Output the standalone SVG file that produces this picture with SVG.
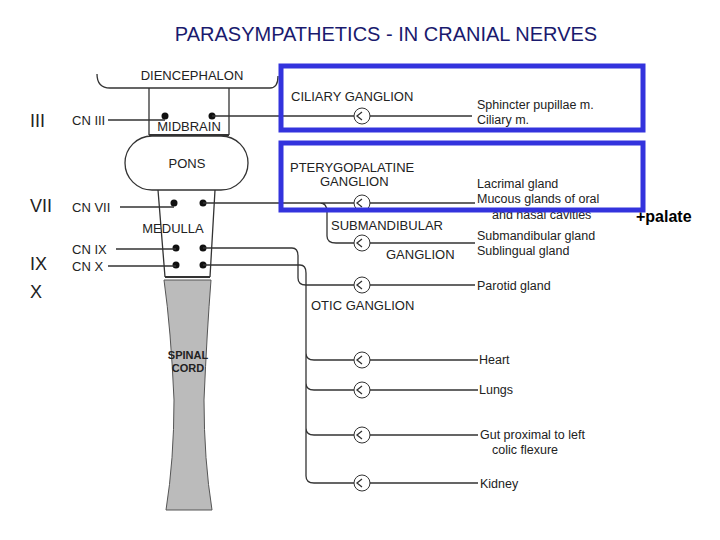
<svg xmlns="http://www.w3.org/2000/svg" width="720" height="540" viewBox="0 0 720 540">
<style>
.t{font-family:"Liberation Sans",Arial,sans-serif;fill:#222}
.s{font-size:13px}
.l{font-size:12.5px}
.n{fill:none;stroke:#333;stroke-width:1.3}
.g{fill:#fff;stroke:#333;stroke-width:1}
.b{fill:none;stroke:#3333dd;stroke-width:5}
</style>
<rect width="720" height="540" fill="#fff"/>
<text class="t" x="386" y="41" font-size="20" text-anchor="middle" fill="#1a1a6e" style="fill:#1a1a6e">PARASYMPATHETICS - IN CRANIAL NERVES</text>
<g id="roman" class="t" font-size="18">
<text x="30" y="127">III</text><text x="30" y="212">VII</text><text x="30" y="270">IX</text><text x="30" y="298">X</text>
</g>
<g id="brain">
<path class="n" d="M97,74 Q97,88 110,88 L270,88 Q278,88 278,76"/>
<text class="t s" x="192" y="80" text-anchor="middle">DIENCEPHALON</text>
<path class="n" d="M149,88 V135 M229,88 V135"/>
<line x1="149" y1="135" x2="229" y2="135" stroke="#333" stroke-width="2"/>
<text class="t s" x="189" y="131" text-anchor="middle">MIDBRAIN</text>
<rect class="n" x="125" y="136" width="123" height="54" rx="27" fill="#fff"/>
<text class="t s" x="187" y="168" text-anchor="middle">PONS</text>
<path class="n" d="M158,190 L165,277 M215,190 L210,277"/>
<line x1="165" y1="277" x2="210" y2="277" stroke="#333" stroke-width="2"/>
<text class="t s" x="173" y="233" text-anchor="middle">MEDULLA</text>
<path d="M164,280 L211,280 Q207,330 204,400 Q204,460 212,510 L166,510 Q174,460 174,400 Q171,330 164,280Z" fill="#bbb" stroke="#555"/>
<text class="t" x="188" y="359" font-size="11" font-weight="bold" text-anchor="middle">SPINAL</text>
<text class="t" x="188" y="372" font-size="11" font-weight="bold" text-anchor="middle">CORD</text>
<g fill="#111"><circle cx="165" cy="116" r="3.5"/><circle cx="212" cy="116" r="3.5"/><circle cx="174" cy="203" r="3.5"/><circle cx="203" cy="203" r="3.5"/><circle cx="176" cy="248" r="3.5"/><circle cx="203" cy="248" r="3.5"/><circle cx="176" cy="265" r="3.5"/><circle cx="203" cy="265" r="3.5"/></g>
</g>
<g id="cnlabels" class="t s">
<text x="72" y="125">CN III</text><text x="72" y="212">CN VII</text><text x="72" y="254">CN IX</text><text x="72" y="271">CN X</text>
</g>
<g id="connectors">
<path class="n" d="M108,120 H165 M120,207 H174 M116,249 H176 M108,266 H176"/>
<path class="n" d="M212,116 H472"/>
<path class="n" d="M203,203 H475 M320,203 Q327,203 327,212 V236 Q327,243 336,243 H475"/>
<path class="n" d="M203,248 H292 Q298,248 298,256 V278 Q298,285 306,285 H475"/>
<path class="n" d="M203,265 H300 Q306,265 306,273 V476 Q306,483 314,483 H478 M306,353 Q306,360 314,360 H478 M306,383 Q306,390 314,390 H478 M306,428 Q306,435 314,435 H478"/>
</g>
<g id="ganglia">
<circle class="g" cx="362" cy="116" r="8"/><circle class="g" cx="362" cy="203" r="8"/><circle class="g" cx="362" cy="243" r="8"/><circle class="g" cx="362" cy="285" r="8"/><circle class="g" cx="362" cy="360" r="8"/><circle class="g" cx="362" cy="390" r="8"/><circle class="g" cx="362" cy="435" r="8"/><circle class="g" cx="362" cy="483" r="8"/>
<path class="n" d="M362,112 L357,116 L362,120 M362,199 L357,203 L362,207 M362,239 L357,243 L362,247 M362,281 L357,285 L362,289 M362,356 L357,360 L362,364 M362,386 L357,390 L362,394 M362,431 L357,435 L362,439 M362,479 L357,483 L362,487"/>
</g>
<g id="gangliontext" class="t s">
<text x="291" y="101">CILIARY GANGLION</text>
<text x="290" y="172">PTERYGOPALATINE</text><text x="320" y="186">GANGLION</text>
<text x="331" y="230">SUBMANDIBULAR</text><text x="386" y="259">GANGLION</text>
<text x="311" y="310">OTIC GANGLION</text>
</g>
<g id="targets" class="t l">
<text x="477" y="109">Sphincter pupillae m.</text><text x="477" y="124">Ciliary m.</text>
<text x="477" y="188">Lacrimal gland</text><text x="477" y="203">Mucous glands of oral</text><text x="492" y="219">and nasal cavities</text>
<text x="477" y="240">Submandibular gland</text><text x="477" y="255">Sublingual gland</text>
<text x="477" y="290">Parotid gland</text>
<text x="479" y="364">Heart</text><text x="479" y="394">Lungs</text>
<text x="480" y="439">Gut proximal to left</text><text x="492" y="454">colic flexure</text>
<text x="480" y="488">Kidney</text>
</g>
<g id="boxes">
<rect class="b" x="281" y="66" width="362" height="64"/>
<rect class="b" x="281" y="143" width="362" height="67"/>
</g>
<text class="t" x="636" y="222" font-size="16" font-weight="bold" style="fill:#000">+palate</text>
</svg>
